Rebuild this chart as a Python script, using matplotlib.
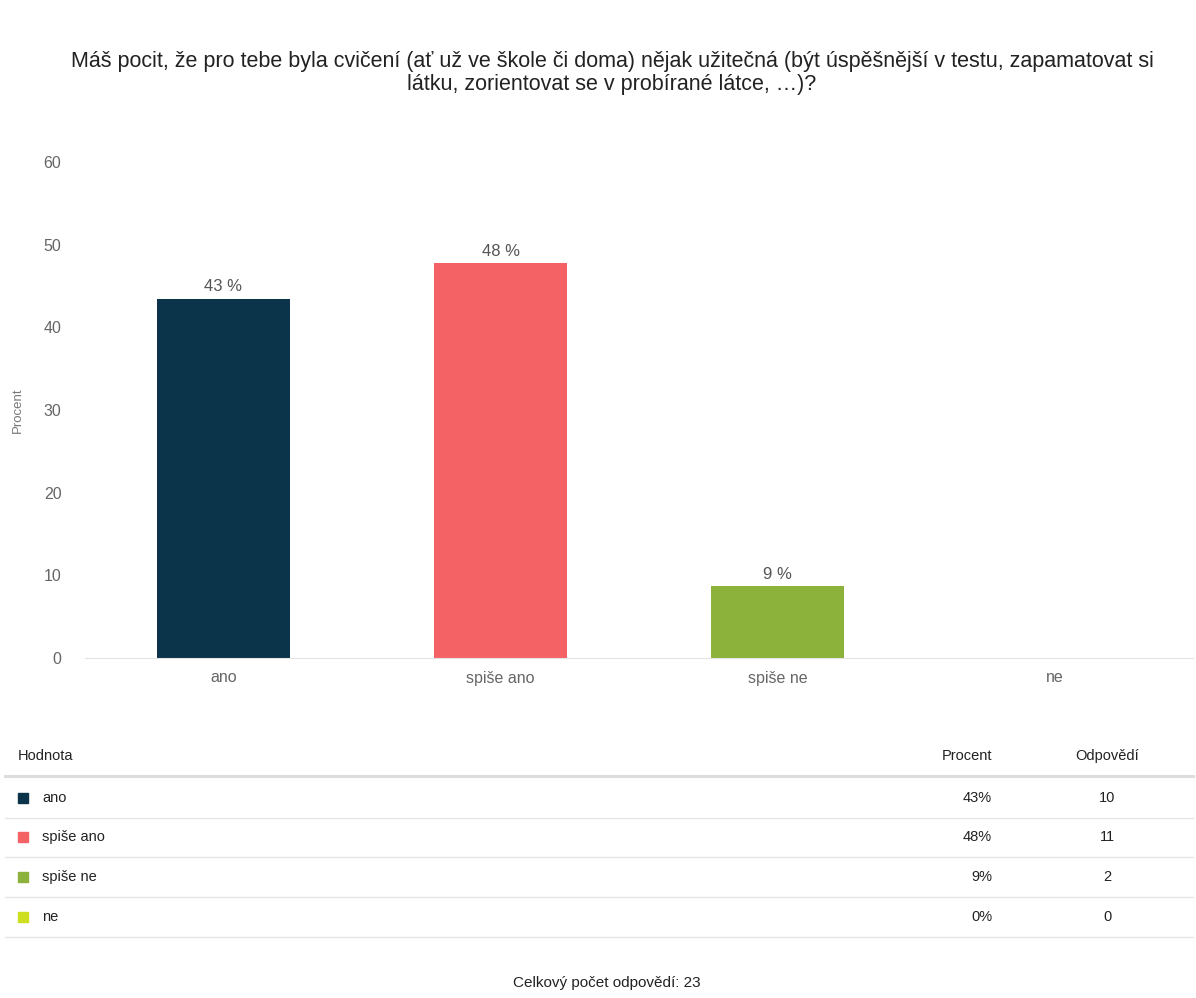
import matplotlib.pyplot as plt
from matplotlib.lines import Line2D
from matplotlib.patches import Rectangle

plt.rcParams['font.family'] = ['Liberation Sans', 'DejaVu Sans']

categories = ['ano', 'spiše ano', 'spiše ne', 'ne']
answers = [10, 11, 2, 0]
total = sum(answers)
percent = [a / total * 100 for a in answers]
colors = ['#0b3349', '#f46266', '#8cb23c', '#cddf1e']

title = ('Máš pocit, že pro tebe byla cvičení (ať už ve škole či doma) nějak užitečná '
         '(být úspěšnější v testu, zapamatovat si\nlátku, zorientovat se v probírané látce, …)?')

W, H = 1196, 998
fig = plt.figure(figsize=(W / 100, H / 100), dpi=100)


def fx(px):
    return px / W


def fy(py):
    return 1 - py / H


fig.text(fx(612), fy(73), title, ha='center', va='center', fontsize=15.5,
         color='#222222', linespacing=1.15)

# bar chart area
ax = fig.add_axes([fx(85), fy(658), fx(1193) - fx(85), fy(162) - fy(658)])
x = range(len(categories))
bars = ax.bar(x, percent, width=0.48, color=colors)
for i, (b, p) in enumerate(zip(bars, percent)):
    if answers[i] > 0:
        ax.text(b.get_x() + b.get_width() / 2, p + 0.5, f'{p:.0f} %',
                ha='center', va='bottom', fontsize=12, color='#555555')

ax.set_xlim(-0.5, len(categories) - 0.5)
ax.set_ylim(0, 60)
ax.set_yticks(range(0, 61, 10))
ax.set_xticks(list(x))
ax.set_xticklabels(categories)
ax.tick_params(axis='both', length=0, labelsize=11.5, labelcolor='#666666')
ax.tick_params(axis='y', pad=17)
ax.tick_params(axis='x', pad=9)
for s in ['top', 'right', 'left']:
    ax.spines[s].set_visible(False)
ax.spines['bottom'].set_color('#e3e3e3')
ax.set_ylabel('Procent', fontsize=9.5, color='#777777', labelpad=14)

# summary table below the chart
fs = 10.5
fig.text(fx(18), fy(756), 'Hodnota', ha='left', va='center', fontsize=fs, color='#222222')
fig.text(fx(992), fy(756), 'Procent', ha='right', va='center', fontsize=fs, color='#222222')
fig.text(fx(1107), fy(756), 'Odpovědí', ha='center', va='center', fontsize=fs, color='#222222')
fig.add_artist(Line2D([fx(5), fx(1193)], [fy(776), fy(776)], color='#dddddd', lw=2.2))

row_y = [798, 837, 877, 917]
for cat, ans, p, c, ry in zip(categories, answers, percent, colors, row_y):
    fig.add_artist(Rectangle((fx(18), fy(ry + 5)), fx(10), fy(ry - 5) - fy(ry + 5),
                             color=c, transform=fig.transFigure))
    fig.text(fx(42), fy(ry), cat, ha='left', va='center', fontsize=fs, color='#222222')
    fig.text(fx(992), fy(ry), f'{p:.0f}%', ha='right', va='center', fontsize=fs, color='#222222')
    fig.text(fx(1107), fy(ry), str(ans), ha='center', va='center', fontsize=fs, color='#222222')
    fig.add_artist(Line2D([fx(5), fx(1193)], [fy(ry + 20), fy(ry + 20)], color='#e6e6e6', lw=1))

fig.text(fx(607), fy(983), f'Celkový počet odpovědí: {total}', ha='center', va='center',
         fontsize=11, color='#222222')

fig.savefig('out.png', dpi=100, facecolor='white')
